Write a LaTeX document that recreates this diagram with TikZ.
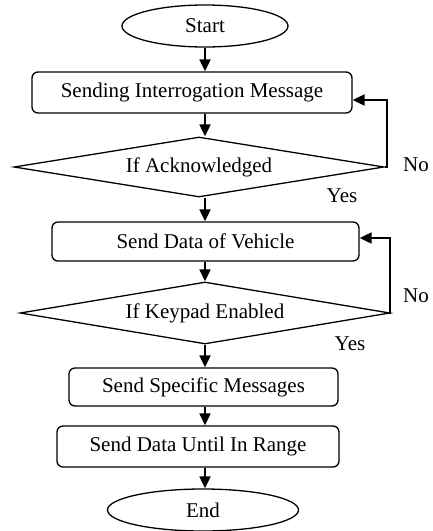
\documentclass[tikz,border=0pt]{standalone}
\usepackage{fontspec}
\setmainfont{Liberation Serif}
\usetikzlibrary{shapes.geometric,arrows.meta}
\begin{document}
\begin{tikzpicture}[x=1pt,y=-1pt,
  every node/.style={font=\fontsize{21}{25}\selectfont},
  term/.style={draw, ellipse, line width=1.3pt, inner sep=0pt, minimum width=166pt, minimum height=42pt},
  proc/.style={draw, rounded corners=6pt, line width=1.3pt, inner sep=0pt},
  dec/.style={draw, diamond, aspect=6, line width=1.3pt, inner sep=0pt},
  lbl/.style={inner sep=0pt},
  flow/.style={line width=2pt, -{Triangle[length=12pt,width=11pt]}}]
\useasboundingbox (0,0) rectangle (433,531);

\node[term] (start) at (205,26) {Start};
\node[proc, minimum width=320pt, minimum height=41pt] (b1) at (192,92.5) {Sending Interrogation Message};
\node[dec, minimum width=370pt, minimum height=60pt] (d1) at (199,167) {If Acknowledged};
\node[proc, minimum width=307pt, minimum height=39pt] (b2) at (205.5,241.5) {Send Data of Vehicle};
\node[dec, minimum width=370pt, minimum height=62pt] (d2) at (205,313) {If Keypad Enabled};
\node[proc, minimum width=269pt, minimum height=38pt] (b3) at (203.5,387) {Send Specific Messages};
\node[proc, minimum width=282pt, minimum height=41pt] (b4) at (198,446.5) {Send Data Until In Range};
\node[term, minimum width=191pt] (end) at (203,510) {End};

\node[lbl] (no1) at (416,165) {No};
\node[lbl] (yes1) at (342,196) {Yes};
\node[lbl] (no2) at (416,296) {No};
\node[lbl] (yes2) at (350,344) {Yes};

\draw[flow] (start.south) -- (start.south |- b1.north);
\draw[flow] (b1.south -| start.south) -- (d1.north -| start.south);
\draw[flow] (d1.south -| start.south) -- (b2.north -| start.south);
\draw[flow] (b2.south -| start.south) -- (d2.north -| start.south);
\draw[flow] (d2.south -| start.south) -- (b3.north -| start.south);
\draw[flow] (b3.south -| start.south) -- (b4.north -| start.south);
\draw[flow] (b4.south -| start.south) -- (end.north -| start.south);

\coordinate (l1) at (387,100);
\draw[flow] (d1.east) -- (d1.east -| l1) -- (l1) -- (l1 -| b1.east);
\coordinate (l2) at (390,238);
\draw[flow] (d2.east) -- (d2.east -| l2) -- (l2) -- (l2 -| b2.east);
\end{tikzpicture}
\end{document}
